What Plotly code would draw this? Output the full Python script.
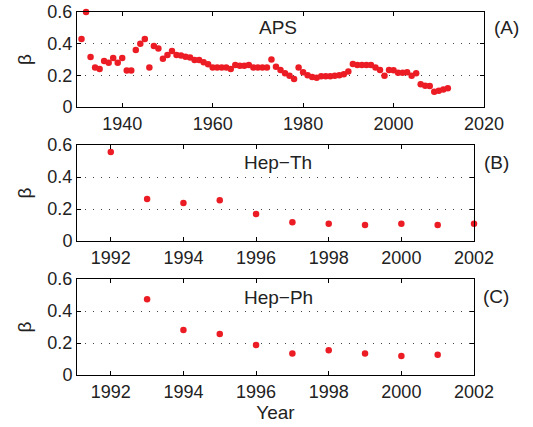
import plotly.graph_objects as go

aps_years = list(range(1931, 2013))
aps_beta = [0.43, 0.60, 0.316, 0.25, 0.24, 0.29, 0.28, 0.31, 0.28, 0.31,
            0.23, 0.23, 0.36, 0.40, 0.43, 0.25, 0.386, 0.37, 0.304, 0.329,
            0.354, 0.329, 0.325, 0.318, 0.312, 0.297, 0.297, 0.283, 0.27, 0.249,
            0.249, 0.249, 0.249, 0.24, 0.266, 0.26, 0.26, 0.266, 0.25, 0.25,
            0.25, 0.25, 0.30, 0.255, 0.234, 0.213, 0.198, 0.177, 0.25, 0.22,
            0.20, 0.19, 0.185, 0.195, 0.195, 0.195, 0.198, 0.20, 0.207, 0.224,
            0.272, 0.266, 0.266, 0.266, 0.266, 0.25, 0.234, 0.198, 0.234, 0.232,
            0.217, 0.217, 0.22, 0.198, 0.213, 0.143, 0.135, 0.133, 0.097, 0.103,
            0.11, 0.118]

hepth_years = list(range(1992, 2003))
hepth_beta = [0.556, 0.263, 0.238, 0.254, 0.169, 0.117, 0.108, 0.10, 0.108, 0.10, 0.108]

hepph_years = list(range(1993, 2002))
hepph_beta = [0.473, 0.281, 0.256, 0.188, 0.135, 0.154, 0.135, 0.119, 0.127]

aps_xticks = [1940, 1960, 1980, 2000, 2020]
hep_xticks = [1992, 1994, 1996, 1998, 2000, 2002]
yticks = [0, 0.2, 0.4, 0.6]
ytick_text = ["0", "0.2", "0.4", "0.6"]

panel_names = ["APS", "Hep\u2212Th", "Hep\u2212Ph"]
panel_tags = ["(A)", "(B)", "(C)"]

W, H = 533, 427
RED = "#EC1C24"
FONT = "Liberation Sans, Arial, sans-serif"
TXT = "#222222"


def px(xp):
    return xp / W


def py(yp):
    return 1 - yp / H


fig = go.Figure()
data = [(aps_years, aps_beta), (hepth_years, hepth_beta), (hepph_years, hepph_beta)]
for i, (xs, ys) in enumerate(data):
    sfx = "" if i == 0 else str(i + 1)
    fig.add_trace(go.Scatter(x=xs, y=ys, mode="markers",
                             marker=dict(color=RED, size=6.5, line=dict(width=0)),
                             xaxis="x" + sfx, yaxis="y" + sfx, showlegend=False,
                             cliponaxis=False))

# pixel boxes in the page (left, right, top, bottom)
boxes = [(77, 484, 12, 107), (77, 474, 145, 241), (77, 474, 279, 375)]
xranges = [[1930, 2020], [1991.07, 2002], [1991.07, 2002]]
xticks_all = [aps_xticks, hep_xticks, hep_xticks]

layout = dict(width=W, height=H, margin=dict(l=0, r=0, t=0, b=0, autoexpand=False),
              plot_bgcolor="white", paper_bgcolor="white",
              font=dict(family=FONT, size=18, color=TXT))
axis_common = dict(showline=True, linecolor="black", linewidth=1, mirror="ticks",
                   ticks="inside", ticklen=4, tickcolor="black", zeroline=False,
                   automargin=False, ticklabeloverflow="allow",
                   tickfont=dict(family=FONT, size=18, color=TXT))
for i, (l, r, t, b) in enumerate(boxes):
    sfx = "" if i == 0 else str(i + 1)
    xa = dict(axis_common, domain=[px(l), px(r)], range=xranges[i],
              tickvals=xticks_all[i], showgrid=False, anchor="y" + sfx)
    ya = dict(axis_common, domain=[py(b), py(t)], range=[0, 0.6],
              tickvals=yticks, ticktext=ytick_text, showgrid=True,
              gridcolor="#444444", gridwidth=1, griddash="1px,7px",
              anchor="x" + sfx,
              title=dict(text="\u03b2", font=dict(family=FONT, size=19, color=TXT), standoff=10))
    if i == 2:
        xa["title"] = dict(text="Year", font=dict(family=FONT, size=19, color=TXT), standoff=1)
    layout["xaxis" + sfx] = xa
    layout["yaxis" + sfx] = ya

fig.update_layout(**layout)

name_pos = [(278, 28), (278, 162), (278, 297)]
tag_pos = [(506, 28), (496, 162), (496, 296)]
for i in range(3):
    fig.add_annotation(x=px(name_pos[i][0]), y=py(name_pos[i][1]), xref="paper", yref="paper",
                       xanchor="center", yanchor="middle",
                       text=panel_names[i], showarrow=False, font=dict(family=FONT, size=19, color=TXT))
    fig.add_annotation(x=px(tag_pos[i][0]), y=py(tag_pos[i][1]), xref="paper", yref="paper",
                       xanchor="center", yanchor="middle",
                       text=panel_tags[i], showarrow=False, font=dict(family=FONT, size=19, color=TXT))

fig.write_html("out.html", config={"displayModeBar": False},
               post_script="document.body.style.margin='0';document.body.style.overflow='hidden';")
